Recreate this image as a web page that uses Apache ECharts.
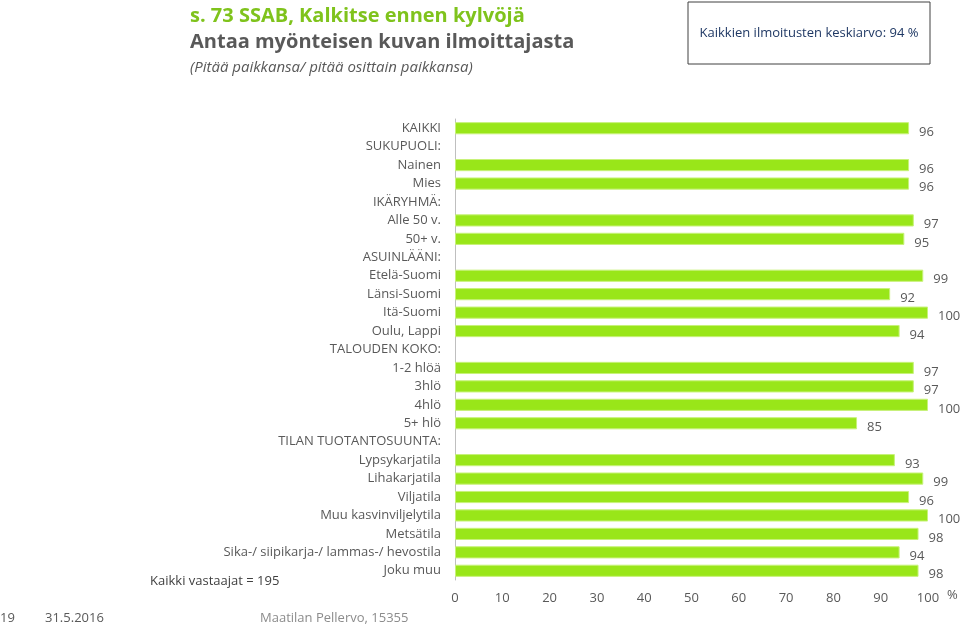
<!DOCTYPE html><html><head><meta charset="utf-8">
<script src="https://cdn.jsdelivr.net/npm/echarts@6/dist/echarts.min.js"></script>
<style>html,body{margin:0;padding:0;background:#fff}#c{width:960px;height:627px}</style></head>
<body><div id="c"></div><script>
const categories=["KAIKKI","SUKUPUOLI:","Nainen","Mies","IKÄRYHMÄ:","Alle 50 v.","50+ v.","ASUINLÄÄNI:","Etelä-Suomi","Länsi-Suomi","Itä-Suomi","Oulu, Lappi","TALOUDEN KOKO:","1-2 hlöä","3hlö","4hlö","5+ hlö","TILAN TUOTANTOSUUNTA:","Lypsykarjatila","Lihakarjatila","Viljatila","Muu kasvinviljelytila","Metsätila","Sika-/ siipikarja-/ lammas-/ hevostila","Joku muu"];
const values=[96,null,96,96,null,97,95,null,99,92,100,94,null,97,97,100,85,null,93,99,96,100,98,94,98];
const xTicks=[0,10,20,30,40,50,60,70,80,90,100];
const chart=echarts.init(document.getElementById('c'));
const gray='#595959', F='"Open Sans", sans-serif';
chart.setOption({
animation:false,
grid:{left:455,right:32,top:119,bottom:47,containLabel:false},
xAxis:{type:'value',min:0,max:100,interval:10,splitLine:{show:false},axisLine:{show:false},axisTick:{show:false},
 axisLabel:{color:gray,fontFamily:F,fontSize:13,margin:12,formatter:v=>xTicks.includes(v)?String(v):''}},
yAxis:{type:'category',inverse:true,data:categories,axisLine:{show:true,lineStyle:{color:'#bfbfbf'}},axisTick:{show:false},
 axisLabel:{color:gray,fontFamily:F,fontSize:13,margin:14,interval:0}},
series:[{type:'bar',data:values,barWidth:'66%',itemStyle:{color:'#99e619',borderColor:'#c8f27a',borderWidth:1},
 label:{show:true,position:'right',distance:10,color:gray,fontFamily:F,fontSize:13,offset:[0,4]}}],
graphic:[
 {type:'text',left:190,top:6,style:{text:'s. 73 SSAB, Kalkitse ennen kylvöjä',fill:'#7fc31c',font:'bold 20px '+F}},
 {type:'text',left:190,top:32,style:{text:'Antaa myönteisen kuvan ilmoittajasta',fill:'#595959',font:'bold 20px '+F}},
 {type:'text',left:190,top:60,style:{text:'(Pitää paikkansa/ pitää osittain paikkansa)',fill:'#595959',font:'italic 15px '+F}},
 {type:'rect',shape:{x:688,y:2,width:242,height:62},style:{fill:'#fff',stroke:'#404040',lineWidth:1}},
 {type:'text',x:809,y:33,style:{text:'Kaikkien ilmoitusten keskiarvo: 94 %',fill:'#1f3864',font:'13px '+F,align:'center',verticalAlign:'middle'}},
 {type:'text',left:150,top:575,style:{text:'Kaikki vastaajat = 195',fill:'#404040',font:'13px '+F}},
 {type:'text',left:947,top:589,style:{text:'%',fill:gray,font:'13px '+F}},
 {type:'text',left:0,top:612,style:{text:'19',fill:gray,font:'13px '+F}},
 {type:'text',left:45,top:612,style:{text:'31.5.2016',fill:gray,font:'13px '+F}},
 {type:'text',left:260,top:612,style:{text:'Maatilan Pellervo, 15355',fill:'#8c8c8c',font:'13px '+F}}
]});
</script></body></html>
